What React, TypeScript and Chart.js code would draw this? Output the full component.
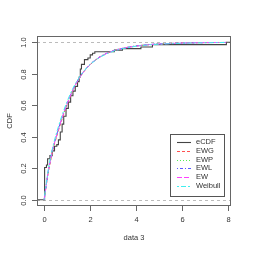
import React, { useEffect, useRef } from "react";
import { Chart, registerables } from "chart.js";

Chart.register(...registerables);

// Empirical CDF step points (x of jump, cumulative proportion)
const ecdfX = [-0.31, 0.02, 0.1, 0.15, 0.25, 0.35, 0.45, 0.55, 0.62, 0.7, 0.78, 0.85, 0.95, 1.05, 1.15, 1.25, 1.35, 1.45, 1.52, 1.57, 1.62, 1.75, 1.9, 2.0, 2.1, 2.2, 3.05, 3.4, 4.2, 4.7, 7.91, 8.11];
const ecdfY = [0, 0.205, 0.22, 0.26, 0.28, 0.31, 0.34, 0.35, 0.38, 0.43, 0.48, 0.53, 0.58, 0.62, 0.66, 0.69, 0.72, 0.75, 0.78, 0.83, 0.86, 0.89, 0.9, 0.92, 0.93, 0.94, 0.95, 0.96, 0.97, 0.985, 1.0, 1.0];

// Fitted model CDF values on a grid
const modelX = [0, 0.05, 0.1, 0.2, 0.3, 0.4, 0.5, 0.6, 0.75, 1, 1.25, 1.5, 1.75, 2, 2.25, 2.5, 3, 3.5, 4, 4.5, 5, 6, 7, 7.9];
const ewgY = [0, 0.05, 0.1, 0.19, 0.26, 0.33, 0.38, 0.43, 0.5, 0.605, 0.695, 0.765, 0.818, 0.858, 0.889, 0.913, 0.945, 0.964, 0.976, 0.984, 0.989, 0.995, 0.998, 0.999];
const ewpY = [0, 0.05, 0.1, 0.195, 0.265, 0.335, 0.385, 0.435, 0.505, 0.61, 0.698, 0.767, 0.82, 0.86, 0.89, 0.914, 0.946, 0.965, 0.977, 0.985, 0.99, 0.995, 0.998, 0.999];
const ewlY = [0, 0.05, 0.1, 0.2, 0.27, 0.34, 0.39, 0.44, 0.51, 0.612, 0.7, 0.768, 0.821, 0.861, 0.891, 0.915, 0.947, 0.965, 0.977, 0.985, 0.99, 0.995, 0.998, 0.999];
const ewY = [0, 0.05, 0.1, 0.198, 0.268, 0.338, 0.388, 0.438, 0.508, 0.61, 0.698, 0.766, 0.819, 0.859, 0.89, 0.914, 0.946, 0.964, 0.976, 0.984, 0.989, 0.995, 0.998, 0.999];
const weibullY = [0, 0.06, 0.11, 0.21, 0.285, 0.35, 0.405, 0.455, 0.525, 0.625, 0.708, 0.772, 0.821, 0.859, 0.888, 0.911, 0.943, 0.962, 0.975, 0.983, 0.988, 0.994, 0.997, 0.999];

const xTicks = [0, 2, 4, 6, 8];
const xTickLabels = ["0", "2", "4", "6", "8"];
const yTicks = [0, 0.2, 0.4, 0.6, 0.8, 1.0];
const yTickLabels = ["0.0", "0.2", "0.4", "0.6", "0.8", "1.0"];
const seriesLabels = ["eCDF", "EWG", "EWP", "EWL", "EW", "Weibull"];
const xTitle = "data 3";
const yTitle = "CDF";

const FONT = "7.5px 'Liberation Sans', Arial, sans-serif";
const TEXT = "#333";

const toPoints = (xs: number[], ys: number[]) => xs.map((x, i) => ({ x, y: ys[i] }));

const decorPlugin = {
  id: "rdecor",
  beforeDatasetsDraw(chart: any) {
    const { ctx, chartArea, scales } = chart;
    const y = scales.y;
    ctx.save();
    ctx.strokeStyle = "#bbbbbb";
    ctx.lineWidth = 1;
    ctx.setLineDash([3, 3]);
    [0, 1].forEach((v) => {
      const py = Math.round(y.getPixelForValue(v)) + 0.5;
      ctx.beginPath();
      ctx.moveTo(chartArea.left, py);
      ctx.lineTo(chartArea.right, py);
      ctx.stroke();
    });
    ctx.restore();
  },
  afterDraw(chart: any) {
    const { ctx, chartArea, scales } = chart;
    const xs = scales.x;
    const ys = scales.y;
    const { left, right, top, bottom } = chartArea;
    ctx.save();
    ctx.setLineDash([]);
    ctx.strokeStyle = "#666";
    ctx.lineWidth = 1;
    ctx.strokeRect(left + 0.5, top + 0.5, right - left - 1, bottom - top - 1);

    ctx.fillStyle = TEXT;
    ctx.font = FONT;
    // x axis
    ctx.textAlign = "center";
    ctx.textBaseline = "middle";
    xTicks.forEach((v, i) => {
      const px = Math.round(xs.getPixelForValue(v)) + 0.5;
      ctx.beginPath();
      ctx.moveTo(px, bottom);
      ctx.lineTo(px, bottom + 5);
      ctx.stroke();
      ctx.fillText(xTickLabels[i], px, 220);
    });
    ctx.fillText(xTitle, (left + right) / 2, 238);
    // y axis
    yTicks.forEach((v, i) => {
      const py = Math.round(ys.getPixelForValue(v)) + 0.5;
      ctx.beginPath();
      ctx.moveTo(left - 5, py);
      ctx.lineTo(left, py);
      ctx.stroke();
      ctx.save();
      ctx.translate(23.5, py);
      ctx.rotate(-Math.PI / 2);
      ctx.fillText(yTickLabels[i], 0, 0);
      ctx.restore();
    });
    ctx.save();
    ctx.translate(9.5, (top + bottom) / 2);
    ctx.rotate(-Math.PI / 2);
    ctx.fillText(yTitle, 0, 0);
    ctx.restore();

    // legend
    const lx0 = 170.5, ly0 = 134.5, lw = 54, lh = 62;
    ctx.fillStyle = "#fff";
    ctx.fillRect(lx0, ly0, lw, lh);
    ctx.strokeStyle = "#555";
    ctx.strokeRect(lx0, ly0, lw, lh);
    ctx.textAlign = "left";
    chart.data.datasets.forEach((ds: any, i: number) => {
      const cy = 142.3 + i * 8.7;
      ctx.strokeStyle = ds.borderColor;
      ctx.lineWidth = ds.borderWidth;
      ctx.setLineDash(ds.borderDash || []);
      ctx.beginPath();
      ctx.moveTo(177, Math.round(cy) + 0.5);
      ctx.lineTo(191, Math.round(cy) + 0.5);
      ctx.stroke();
      ctx.setLineDash([]);
      ctx.fillStyle = TEXT;
      ctx.fillText(ds.label, 196, cy);
    });
    ctx.restore();
  },
};

export default function App() {
  const ref = useRef<HTMLCanvasElement>(null);
  useEffect(() => {
    if (!ref.current) return;
    const modelYs = [ewgY, ewpY, ewlY, ewY, weibullY];
    const colors = ["#ff5050", "#55ee55", "#5a5aff", "#ff40ff", "#40eeee"];
    const dashes = [[3, 2], [1, 2], [1, 2, 3, 2], [5, 2], [2, 2, 5, 2]];
    const chart = new Chart(ref.current, {
      type: "line",
      data: {
        datasets: [
          {
            label: seriesLabels[0],
            data: toPoints(ecdfX, ecdfY),
            stepped: true,
            borderColor: "#444",
            borderWidth: 1.1,
            pointRadius: 0,
            fill: false,
            order: 10,
          },
          ...modelYs.map((ys, i) => ({
            label: seriesLabels[i + 1],
            data: toPoints(modelX, ys),
            borderColor: colors[i],
            borderWidth: 1,
            borderDash: dashes[i],
            pointRadius: 0,
            fill: false,
            cubicInterpolationMode: "monotone" as const,
            order: 5 - i,
          })),
        ],
      },
      options: {
        responsive: false,
        animation: false,
        layout: { padding: { left: 37, top: 36, right: 22, bottom: 47 } },
        plugins: { legend: { display: false }, tooltip: { enabled: false } },
        scales: {
          x: { type: "linear", min: -0.31, max: 8.11, display: false },
          y: { type: "linear", min: -0.04, max: 1.04, display: false },
        },
      },
      plugins: [decorPlugin],
    });
    return () => chart.destroy();
  }, []);
  return (
    <div style={{ position: "absolute", left: 0, top: 0, width: 253, height: 253, background: "#fff" }}>
      <canvas ref={ref} width={253} height={253} />
    </div>
  );
}
